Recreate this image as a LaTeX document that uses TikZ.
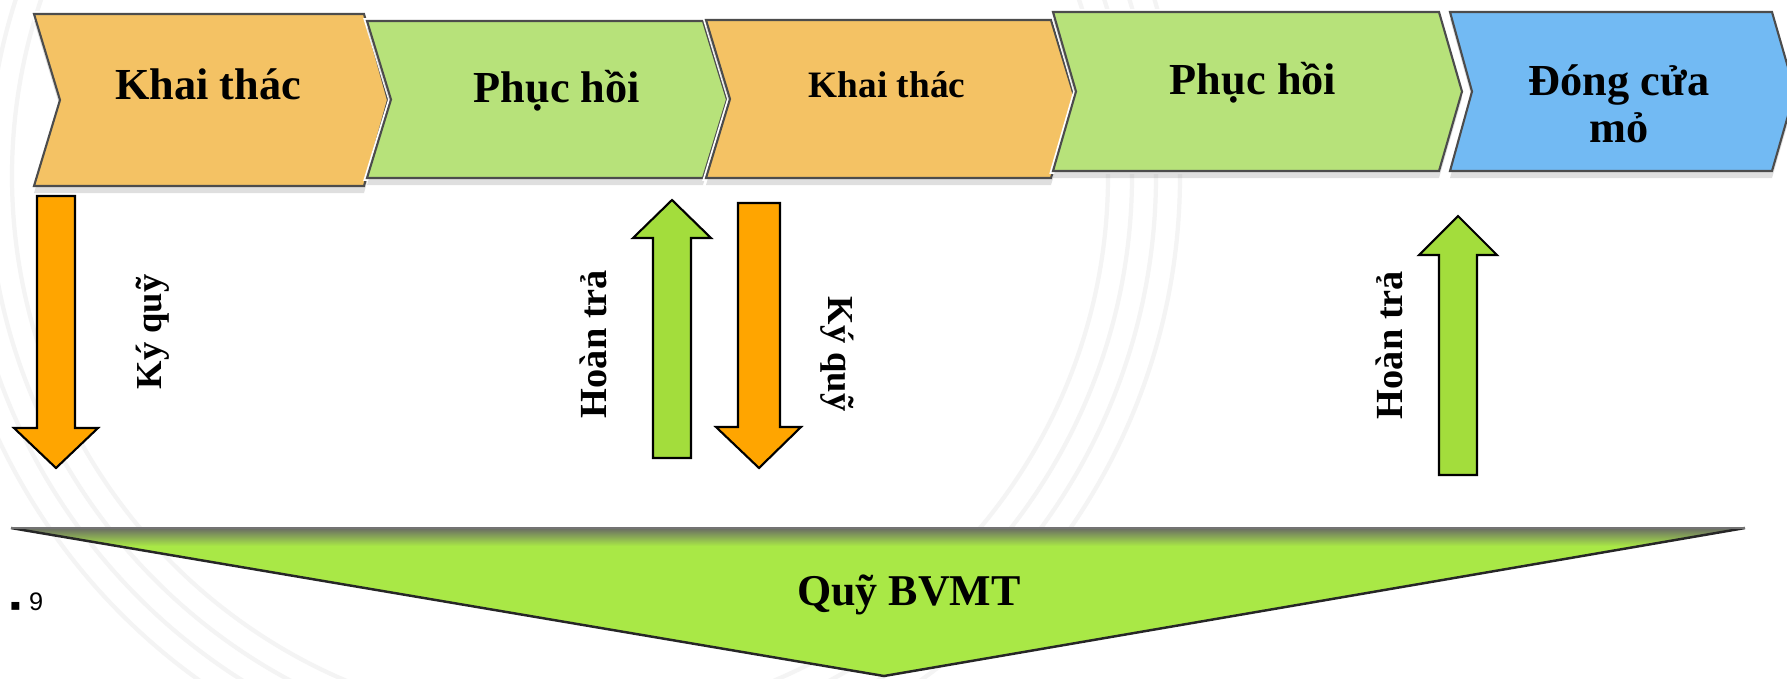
\documentclass[tikz,border=0pt]{standalone}
\usepackage{fontspec}
\setmainfont{Liberation Serif}
\newfontfamily\sansf{Liberation Sans}
\newfontfamily\dejavu{DejaVu Sans}
\usetikzlibrary{shadows}
\definecolor{chorange}{HTML}{F4C264}
\definecolor{chgreen}{HTML}{B7E27A}
\definecolor{chblue}{HTML}{72BAF3}
\definecolor{arorange}{HTML}{FFA500}
\definecolor{argreen}{HTML}{A3DD3C}
\definecolor{trigreen}{HTML}{A9E846}
\definecolor{ringgray}{HTML}{F4F4F4}
\tikzset{
  chev/.style={fill=#1, draw=black!70, line width=0.6pt, line join=miter,
    preaction={draw=white, line width=1.6pt},
    drop shadow={shadow xshift=0pt, shadow yshift=-2pt, opacity=0.25}},
  blockarrow/.style={fill=#1, draw=black, line width=0.6pt, line join=miter},
  lab/.style={font=\bfseries\fontsize{12.6}{14}\selectfont, inner sep=0pt, anchor=base},
  labsmall/.style={font=\bfseries\fontsize{10.6}{12}\selectfont, inner sep=0pt, anchor=base},
  alab/.style={font=\bfseries\fontsize{#1}{12}\selectfont, inner sep=0pt, anchor=base},
  ring/.style={draw=ringgray, line width=1.2pt},
}
\begin{document}
\begin{tikzpicture}[x=0.01cm, y=-0.01cm]
\useasboundingbox (0,0) rectangle (1787,678);
\fill[white] (0,0) rectangle (1787,678);

% faint background rings
\foreach \r in {548,572,596,620}
  \draw[ring] (560,176) circle [radius=\r];

% chevrons
\path[chev=chorange] (34,14) -- (364,14) -- (388,100) -- (364,186) -- (34,186) -- (60,100) -- cycle;
\path[chev=chgreen] (367,21) -- (703,21) -- (727,99.5) -- (703,178) -- (367,178) -- (391,99.5) -- cycle;
\path[chev=chorange] (706,20) -- (1051,20) -- (1075,99) -- (1051,178) -- (706,178) -- (730,99) -- cycle;
\path[chev=chgreen] (1053,12) -- (1439,12) -- (1462,91.5) -- (1439,171) -- (1053,171) -- (1076,91.5) -- cycle;
\path[chev=chblue] (1450,12) -- (1772,12) -- (1795,91.5) -- (1772,171) -- (1450,171) -- (1472,91.5) -- cycle;

\node[lab] (t1) at (208,99) {Khai thác};
\node[lab] (t2) at (557,102) {Phục hồi};
\node[labsmall] (t3) at (887,97) {Khai thác};
\node[lab] (t4) at (1253,94) {Phục hồi};
\node[lab] (t5) at (1619,95) {Đóng cửa};
\node[lab] (t5b) at (1619,142) {mỏ};

% block arrows
\path[blockarrow=arorange] (37,196) -- (75,196) -- (75,428) -- (98,428) -- (56,468) -- (14,428) -- (37,428) -- cycle;
\path[blockarrow=argreen] (653,458) -- (691,458) -- (691,238) -- (711,238) -- (672,200) -- (633,238) -- (653,238) -- cycle;
\path[blockarrow=arorange] (738,203) -- (780,203) -- (780,427) -- (801,427) -- (759,468) -- (716,427) -- (738,427) -- cycle;
\path[blockarrow=argreen] (1439,475) -- (1477,475) -- (1477,255) -- (1497,255) -- (1458,216) -- (1419,255) -- (1439,255) -- cycle;

\node[alab=10.4, rotate=90] (k1) at (161,332) {Ký quỹ};
\node[alab=10.9, rotate=90] (h1) at (606,344) {Hoàn trả};
\node[alab=10.4, rotate=-90] (k2) at (828,354) {Ký quỹ};
\node[alab=10.9, rotate=90] (h2) at (1402,345) {Hoàn trả};

% fund triangle
\fill[trigreen] (11,528) -- (1745,528) -- (884,676) -- cycle;
\begin{scope}
  \clip (11,528) -- (1745,528) -- (884,676) -- cycle;
  \shade[top color=black!60, bottom color=trigreen] (0,527) rectangle (1787,546);
\end{scope}
\draw[black!85, line width=0.7pt, line join=miter] (11,528) -- (884,676) -- (1745,528);
\draw[black!55, line width=0.6pt] (11,528) -- (1745,528);
\node[lab, font=\bfseries\fontsize{12.5}{14}\selectfont] (fund) at (909,605) {Quỹ BVMT};

% page number
\node[anchor=base east, inner sep=0pt, font=\sansf\fontsize{7.2}{8}\selectfont] (pg) at (44,610) {e\kern2.6pt{\dejavu\fontsize{4.5}{5}\selectfont ▪}\kern2.4pt 9};
\end{tikzpicture}
\end{document}
